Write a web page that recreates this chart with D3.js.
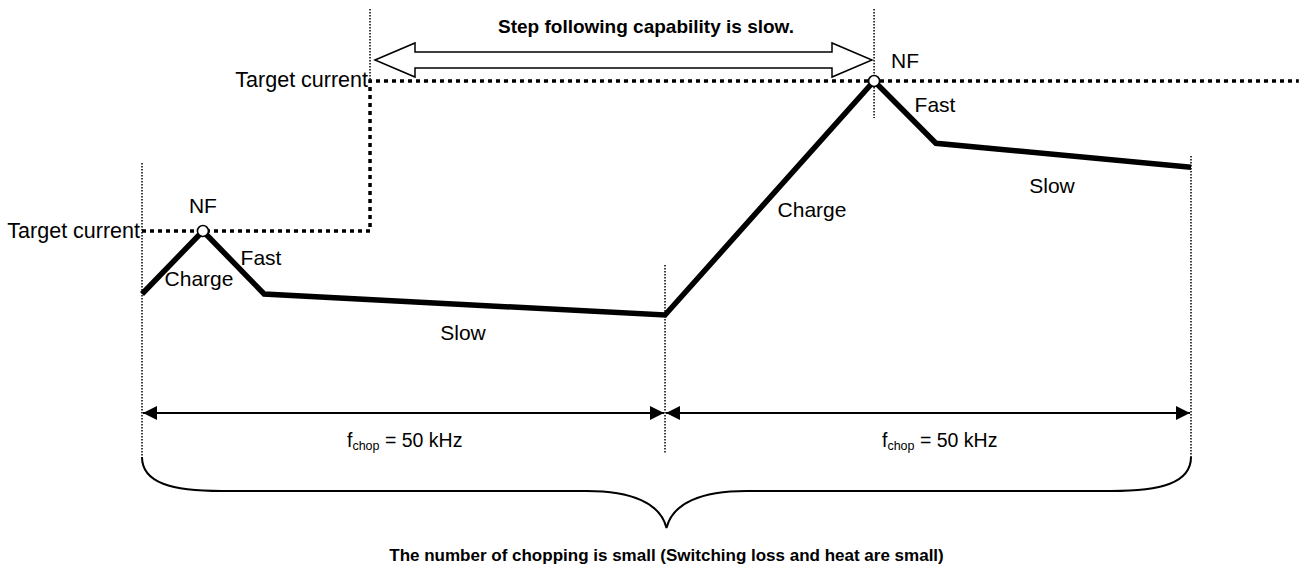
<!DOCTYPE html>
<html>
<head>
<meta charset="utf-8">
<script src="https://cdn.jsdelivr.net/npm/d3@7"></script>
<style>
  html, body { margin: 0; padding: 0; background: #fff; }
  svg { display: block; font-family: "Liberation Sans", Arial, sans-serif; }
</style>
</head>
<body>
<svg id="chart" width="1299" height="568"></svg>
<script>
// ---- data (time in µs, current in arbitrary units) ----
const periodBounds = [0, 20, 40];                  // two chopping periods, f_chop = 50 kHz
const currentTimes = [0, 2.33, 4.67, 20, 27.95, 30.3, 40];
const currentValues = [1.16, 2.0, 1.16, 0.88, 4.0, 3.17, 2.85];
const targetTimes = [0, 8.72, 8.72, 44.1];
const targetValues = [2.0, 2.0, 4.0, 4.0];
const nfTimes = [2.33, 27.95];
const nfValues = [2.0, 4.0];
const periodLabel = ["f", "chop", " = 50 kHz"];
const targetLabel = "Target current";
const topNote = "Step following capability is slow.";
const bottomNote = "The number of chopping is small (Switching loss and heat are small)";

const svg = d3.select("#chart");
const x = d3.scaleLinear().domain(periodBounds).range([142, 665, 1191]);
const y = d3.scaleLinear().domain([0, 4]).range([381, 81]);

const FS = 21;

// ---- thin dotted guide lines ----
const guides = [
  {t: 0, y1: 163, y2: 459},
  {t: 8.72, y1: 9, y2: 81},
  {t: 20, y1: 265, y2: 453},
  {t: 27.95, y1: 9, y2: 118},
  {t: 40, y1: 156, y2: 459}
];
svg.selectAll("line.guide").data(guides).join("line")
  .attr("class", "guide")
  .attr("x1", d => x(d.t)).attr("x2", d => x(d.t))
  .attr("y1", d => d.y1).attr("y2", d => d.y2)
  .attr("stroke", "#000").attr("stroke-width", 1.5)
  .attr("stroke-dasharray", "1.5,1.5");

// ---- target current (thick dotted step) ----
const target = targetTimes.map((t, i) => [t, targetValues[i]]);
svg.append("path")
  .attr("d", d3.line().x(d => x(d[0])).y(d => y(d[1]))(target))
  .attr("fill", "none").attr("stroke", "#000")
  .attr("stroke-width", 3.5).attr("stroke-dasharray", "4,4");

// ---- current waveform ----
const current = currentTimes.map((t, i) => [t, currentValues[i]]);
svg.append("path")
  .attr("d", d3.line().x(d => x(d[0])).y(d => y(d[1]))(current))
  .attr("fill", "none").attr("stroke", "#000")
  .attr("stroke-width", 5.5).attr("stroke-linejoin", "miter");

// ---- NF points ----
svg.selectAll("circle.nf").data(nfTimes.map((t, i) => [t, nfValues[i]])).join("circle")
  .attr("class", "nf")
  .attr("cx", d => x(d[0])).attr("cy", d => y(d[1])).attr("r", 5.5)
  .attr("fill", "#fff").attr("stroke", "#000").attr("stroke-width", 1.6);

// ---- labels ----
function label(txt, px, py, anchor, weight, size) {
  return svg.append("text").attr("x", px).attr("y", py)
    .attr("text-anchor", anchor || "start")
    .attr("font-size", size || FS)
    .attr("font-weight", weight || "normal")
    .attr("fill", "#000").text(txt);
}
label(targetLabel, x(0) - 2, y(2) + 7, "end").attr("font-size", 21.5);
label(targetLabel, x(8.72) - 2, y(4) + 6, "end").attr("font-size", 21.5);
label("NF", x(nfTimes[0]), y(2) - 18, "middle");
label("NF", x(nfTimes[1]) + 17, y(4) - 13, "start");
label("Charge", 199, 286, "middle");
label("Fast", 261, 265, "middle");
label("Slow", 463, 340, "middle");
label("Charge", 812, 217, "middle");
label("Fast", 935, 112, "middle");
label("Slow", 1052, 193, "middle");

// ---- hollow double arrow ----
const ax1 = 375, ax2 = 872, ay = 60, sh = 8, hh = 17, hl = 40;
svg.append("polygon")
  .attr("points", [
    [ax1, ay], [ax1 + hl, ay - hh], [ax1 + hl, ay - sh], [ax2 - hl, ay - sh],
    [ax2 - hl, ay - hh], [ax2, ay], [ax2 - hl, ay + hh], [ax2 - hl, ay + sh],
    [ax1 + hl, ay + sh], [ax1 + hl, ay + hh]
  ].map(p => p.join(",")).join(" "))
  .attr("fill", "#fff").attr("stroke", "#000").attr("stroke-width", 1.5);
label(topNote, 646, 33, "middle", "bold", 19);

// ---- dimension arrows ----
const defs = svg.append("defs");
defs.append("marker").attr("id", "ah").attr("viewBox", "0 0 14 14")
  .attr("refX", 14).attr("refY", 7).attr("markerWidth", 14).attr("markerHeight", 14)
  .attr("markerUnits", "userSpaceOnUse").attr("orient", "auto-start-reverse")
  .append("path").attr("d", "M0,0 L14,7 L0,14 Z").attr("fill", "#000");
const dimY = 413;
const spans = d3.pairs(periodBounds);
svg.selectAll("line.dim").data(spans).join("line")
  .attr("class", "dim")
  .attr("x1", d => x(d[0]) + 1).attr("x2", d => x(d[1]) - 1)
  .attr("y1", dimY).attr("y2", dimY)
  .attr("stroke", "#000").attr("stroke-width", 2)
  .attr("marker-start", "url(#ah)").attr("marker-end", "url(#ah)");

const labelStarts = [347, 882];
spans.forEach((s, i) => {
  const t = svg.append("text").attr("x", labelStarts[i]).attr("y", 447)
    .attr("font-size", 19.5).attr("fill", "#000");
  t.append("tspan").text(periodLabel[0]);
  t.append("tspan").attr("font-size", 12.5).attr("dy", 3).text(periodLabel[1]);
  t.append("tspan").attr("dy", -3).text(periodLabel[2]);
});

// ---- brace ----
const bx1 = x(0), bx2 = x(40), bm = (bx1 + bx2) / 2, by = 491, bTop = 457, bTip = 528;
const brace = d3.path();
brace.moveTo(bx1, bTop);
brace.bezierCurveTo(bx1, by - 8, bx1 + 30, by, bx1 + 80, by);
brace.lineTo(bm - 80, by);
brace.bezierCurveTo(bm - 35, by, bm - 6, by + 12, bm, bTip);
brace.bezierCurveTo(bm + 6, by + 12, bm + 35, by, bm + 80, by);
brace.lineTo(bx2 - 80, by);
brace.bezierCurveTo(bx2 - 30, by, bx2, by - 8, bx2, bTop);
svg.append("path").attr("d", brace.toString())
  .attr("fill", "none").attr("stroke", "#000").attr("stroke-width", 2);

label(bottomNote, bm, 561, "middle", "bold", 17);
</script>
</body>
</html>
